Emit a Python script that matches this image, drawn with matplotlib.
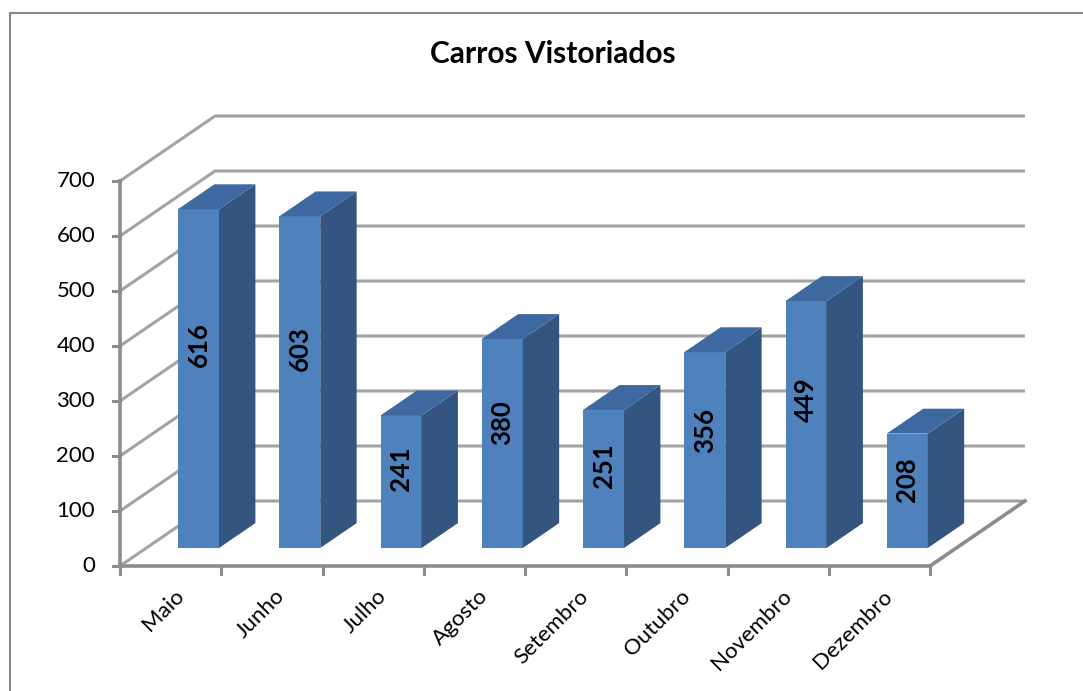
import matplotlib
matplotlib.use('Agg')
import matplotlib.pyplot as plt
from matplotlib.patches import Polygon, Rectangle

# dados do grafico
meses = ['Maio', 'Junho', 'Julho', 'Agosto', 'Setembro', 'Outubro', 'Novembro', 'Dezembro']
carros = [616, 603, 241, 380, 251, 356, 449, 208]
y_ticks = [0, 100, 200, 300, 400, 500, 600, 700]

W, H = 1083, 691
PX_X = 101.25   # pixels por categoria
PX_Y = 0.55     # pixels por unidade
DX = 95 / PX_X  # deslocamento de profundidade (parede do fundo)
DY = 65 / PX_Y

plt.rcParams['font.family'] = ['Lato', 'DejaVu Sans']

fig = plt.figure(figsize=(W / 100, H / 100), dpi=100)
ax = fig.add_axes([120 / W, (H - 566) / H, 910 / W, 456 / H])
ax.set_xlim(0, 910 / PX_X)
ax.set_ylim(0, 456 / PX_Y)
ax.axis('off')

n = len(meses)
grid_c = '#a3a3a3'
axis_c = '#8c8c8c'

# linhas de grade (parede esquerda + fundo)
for v in y_ticks:
    ax.plot([0, DX, n + DX], [v, v + DY, v + DY], color=grid_c, lw=2.2, zorder=1,
            solid_capstyle='butt', clip_on=False)
    ax.plot([-7 / PX_X, 0], [v, v], color=axis_c, lw=2.2, zorder=3, clip_on=False)
    ax.text(-25 / PX_X, v, str(v), ha='right', va='center', fontsize=16, color='black')

# eixo vertical
ax.plot([0, 0], [0, y_ticks[-1]], color=axis_c, lw=2.6, zorder=3, clip_on=False)
# chao
ax.plot([0, n, n + DX], [0, 0, DY], color=axis_c, lw=2.6, zorder=3, clip_on=False)
for i in range(n + 1):
    ax.plot([i, i], [0, -14.5], color=axis_c, lw=2.2, zorder=3, clip_on=False)

# barras
d0, d1 = 0.277, 0.66
w = 0.405
front_c = '#4f81bd'
side_c = '#34557f'
top_c = '#3d68a0'
dd = d1 - d0
for i, v in enumerate(carros):
    x0 = i + 0.313 + d0 * DX
    b0 = d0 * DY
    ax.bar(x0, v, width=w, bottom=b0, align='edge', color=front_c, zorder=5, lw=0)
    xr = x0 + w
    ax.add_patch(Polygon([(xr, b0), (xr, b0 + v), (xr + dd * DX, b0 + v + dd * DY),
                          (xr + dd * DX, b0 + dd * DY)], closed=True, color=side_c, lw=0, zorder=5))
    ax.add_patch(Polygon([(x0, b0 + v), (xr, b0 + v), (xr + dd * DX, b0 + v + dd * DY),
                          (x0 + dd * DX, b0 + v + dd * DY)], closed=True, color=top_c, lw=0, zorder=5))
    ax.text(x0 + w / 2, b0 + 0.6 * v, str(v), rotation=90, ha='center', va='center',
            fontsize=18.5, fontweight='bold', color='black', zorder=6)
    ax.text(i + 0.5 + 3 / PX_X, -20 / PX_Y, meses[i], rotation=45, ha='right', va='top',
            rotation_mode='anchor', fontsize=16, color='black')

# titulo
fig.text(553 / W, 1 - 63 / H, 'Carros Vistoriados', ha='center', va='baseline',
         fontsize=21.5, fontweight='bold', color='black')

# borda da area do grafico
fig.add_artist(Rectangle((10 / W, -0.05), 1.1, 1 - 13 / H + 0.05, transform=fig.transFigure,
                         fill=False, edgecolor='#878787', lw=1.5))

fig.savefig('out.png', dpi=100)
